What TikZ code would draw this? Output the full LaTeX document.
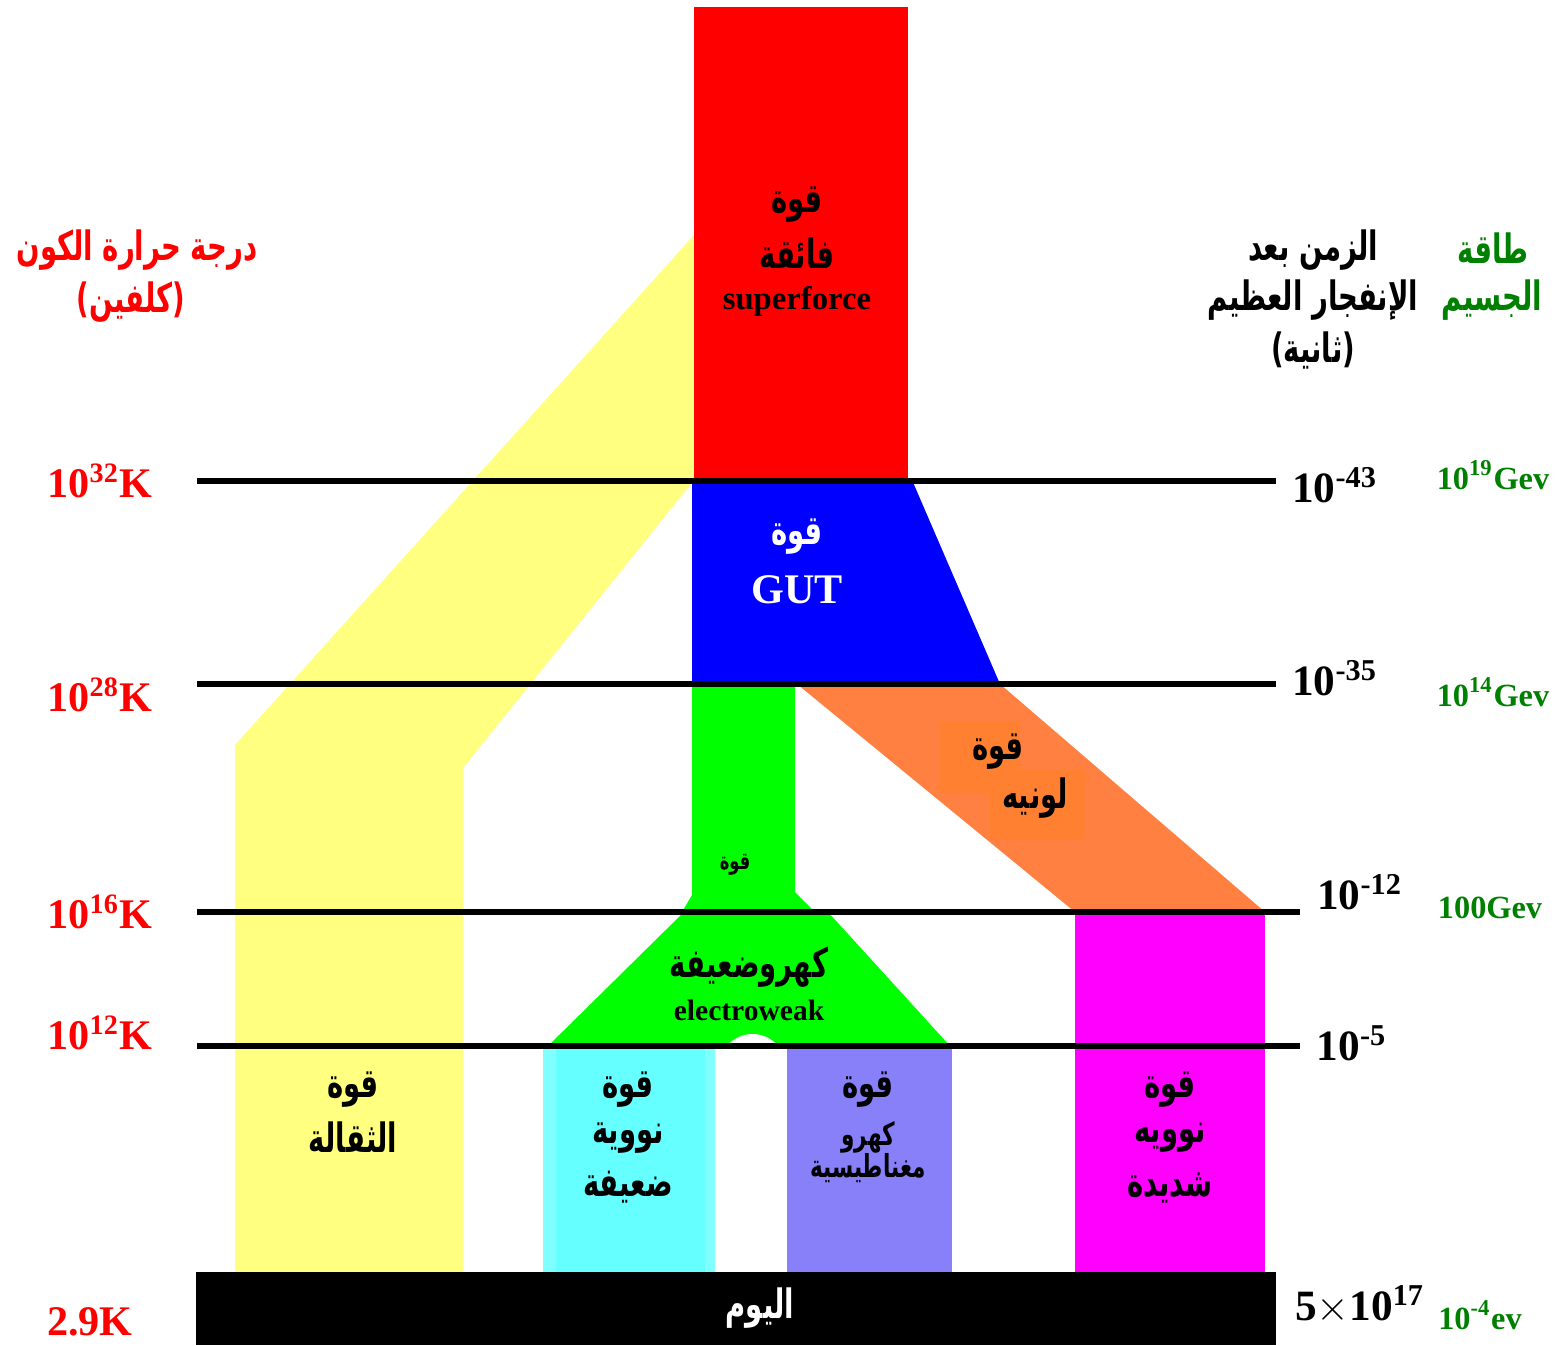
\documentclass[tikz,border=0pt]{standalone}
\usepackage{fontspec}
\setmainfont{Liberation Serif}
\newfontfamily\arabicfont[Script=Arabic, FakeStretch=0.68]{DejaVu Sans}
\TeXXeTstate=1
\usepackage{tikz}
\usetikzlibrary{positioning, calc}
\usepackage{xcolor}
\definecolor{gravyellow}{HTML}{FFFF80}
\definecolor{superred}{HTML}{FF0000}
\definecolor{gutblue}{HTML}{0000FF}
\definecolor{ewgreen}{HTML}{00FF00}
\definecolor{colorange}{HTML}{FF8040}
\definecolor{colorangebox}{HTML}{FF8030}
\definecolor{weakcyan}{HTML}{80FFFF}
\definecolor{weakcyanin}{HTML}{66FFFF}
\definecolor{empurple}{HTML}{8880F8}
\definecolor{strongmag}{HTML}{FF00FF}
\definecolor{energygreen}{HTML}{008000}
\newcommand{\artext}[1]{{\arabicfont\bfseries\beginR #1\endR}}
\tikzstyle{eraline} = [line width=1.6pt, black]
\tikzstyle{band} = [draw=none]
\tikzstyle{arlbl} = [inner sep=0pt, font=\fontsize{11.5}{14}\selectfont]
\tikzstyle{templbl} = [inner sep=0pt, text=red, font=\fontsize{12}{14}\selectfont\bfseries]
\tikzstyle{timelbl} = [inner sep=0pt, text=black, font=\fontsize{12.3}{14}\selectfont\bfseries]
\tikzstyle{energylbl} = [inner sep=0pt, text=energygreen, font=\fontsize{9.2}{11}\selectfont\bfseries]

\begin{document}
\begin{tikzpicture}[x=0.01cm, y=-0.01cm]
  \useasboundingbox (0,0) rectangle (1564,1345);

  % force bands
  \fill[band, gravyellow] (235,1272) -- (235,745) -- (694,235) -- (694,480) -- (463,768) -- (463,1272) -- cycle;
  \fill[band, superred] (694,7) rectangle (908,480);
  \fill[band, gutblue] (692,480) -- (912,480) -- (1000,684) -- (692,684) -- cycle;
  \fill[band, ewgreen] (692,684) -- (795,684) -- (795,892) -- (815,912) -- (682,912) -- (692,895) -- cycle;
  \fill[band, ewgreen] (684,912) -- (828,912) -- (950,1046) -- (548,1046) -- cycle;
  \fill[white] (727,1046) .. controls (740,1030) and (765,1030) .. (778,1046) -- cycle;
  \fill[band, colorange] (797,684) -- (1000,684) -- (1265,912) -- (1075,912) -- cycle;
  \fill[colorangebox] (940,722) rectangle (1020,793);
  \fill[colorangebox] (990,770) rectangle (1085,840);
  \fill[band, weakcyan] (543,1046) rectangle (715,1272);
  \fill[band, weakcyanin] (556,1046) rectangle (705,1272);
  \fill[band, empurple] (787,1046) rectangle (952,1272);
  \fill[band, strongmag] (1075,912) rectangle (1265,1272);
  \fill[black] (196,1272) rectangle (1276,1345);

  % era lines
  \draw[eraline] (197,481) -- (1276,481);
  \draw[eraline] (197,684) -- (1276,684);
  \draw[eraline] (197,912) -- (1300,912);
  \draw[eraline] (197,1046) -- (1300,1046);

  % headers
  \node[arlbl, text=red] (temphead) at (137,250) {\artext{درجة حرارة الكون}};
  \node[arlbl, text=red] (tempunit) at (131,302) {\artext{(كلفين)}};
  \node[arlbl] (timehead) at (1313,250) {\artext{الزمن بعد}};
  \node[arlbl] (timehead2) at (1313,300) {\artext{الإنفجار العظيم}};
  \node[arlbl] (timeunit) at (1313,350) {\artext{(ثانية)}};
  \node[arlbl, text=energygreen] (energyhead) at (1493,248) {\artext{طاقة}};
  \node[arlbl, text=energygreen] (energyhead2) at (1492,300) {\artext{الجسيم}};

  % temperature
  \node[templbl] (t32) at (100,481) {10\textsuperscript{32}K};
  \node[templbl] (t28) at (100,695) {10\textsuperscript{28}K};
  \node[templbl] (t16) at (100,912) {10\textsuperscript{16}K};
  \node[templbl] (t12) at (100,1033) {10\textsuperscript{12}K};
  \node[templbl] (tnow) at (90,1322) {2.9K};

  % time
  \node[timelbl] (s43) at (1335,485) {10\textsuperscript{-43}};
  \node[timelbl] (s35) at (1335,678) {10\textsuperscript{-35}};
  \node[timelbl] (s12) at (1360,892) {10\textsuperscript{-12}};
  \node[timelbl] (s5) at (1352,1043) {10\textsuperscript{-5}};
  \node[timelbl] (snow) at (1360,1305) {5$\times$10\textsuperscript{17}};

  % energy
  \node[energylbl] (e19) at (1493,475) {10\textsuperscript{19}Gev};
  \node[energylbl] (e14) at (1493,692) {10\textsuperscript{14}Gev};
  \node[energylbl] (e100) at (1490,908) {100Gev};
  \node[energylbl] (enow) at (1480,1315) {10\textsuperscript{-4}ev};

  % force names
  \node[arlbl] (super1) at (797,205) {\artext{قوة}};
  \node[arlbl] (super2) at (797,253) {\artext{فائقة}};
  \node[arlbl, font=\fontsize{9.3}{11}\selectfont\bfseries] (super3) at (797,301) {superforce};
  \node[arlbl, text=white] (gut1) at (797,537) {\artext{قوة}};
  \node[arlbl, text=white, font=\fontsize{12}{14}\selectfont\bfseries] (gut2) at (797,590) {GUT};
  \node[arlbl, font=\fontsize{6.8}{8}\selectfont] (ew0) at (735,865) {\artext{قوة}};
  \node[arlbl] (col1) at (998,752) {\artext{قوة}};
  \node[arlbl] (col2) at (1035,798) {\artext{لونيه}};
  \node[arlbl] (ew1) at (749,967) {\artext{كهروضعيفة}};
  \node[arlbl, font=\fontsize{8.4}{10}\selectfont\bfseries] (ew2) at (749,1010) {electroweak};
  \node[arlbl] (grav1) at (353,1090) {\artext{قوة}};
  \node[arlbl] (grav2) at (353,1137) {\artext{الثقالة}};
  \node[arlbl] (weak1) at (628,1090) {\artext{قوة}};
  \node[arlbl] (weak2) at (628,1138) {\artext{نووية}};
  \node[arlbl] (weak3) at (628,1187) {\artext{ضعيفة}};
  \node[arlbl] (em1) at (868,1090) {\artext{قوة}};
  \node[arlbl, font=\fontsize{9}{11}\selectfont] (em2) at (868,1137) {\artext{كهرو}};
  \node[arlbl, font=\fontsize{9}{11}\selectfont] (em3) at (868,1168) {\artext{مغناطيسية}};
  \node[arlbl] (strong1) at (1170,1090) {\artext{قوة}};
  \node[arlbl] (strong2) at (1170,1138) {\artext{نوويه}};
  \node[arlbl] (strong3) at (1170,1188) {\artext{شديدة}};
  \node[arlbl, text=white] (today) at (760,1308) {\artext{اليوم}};
\end{tikzpicture}
\end{document}
